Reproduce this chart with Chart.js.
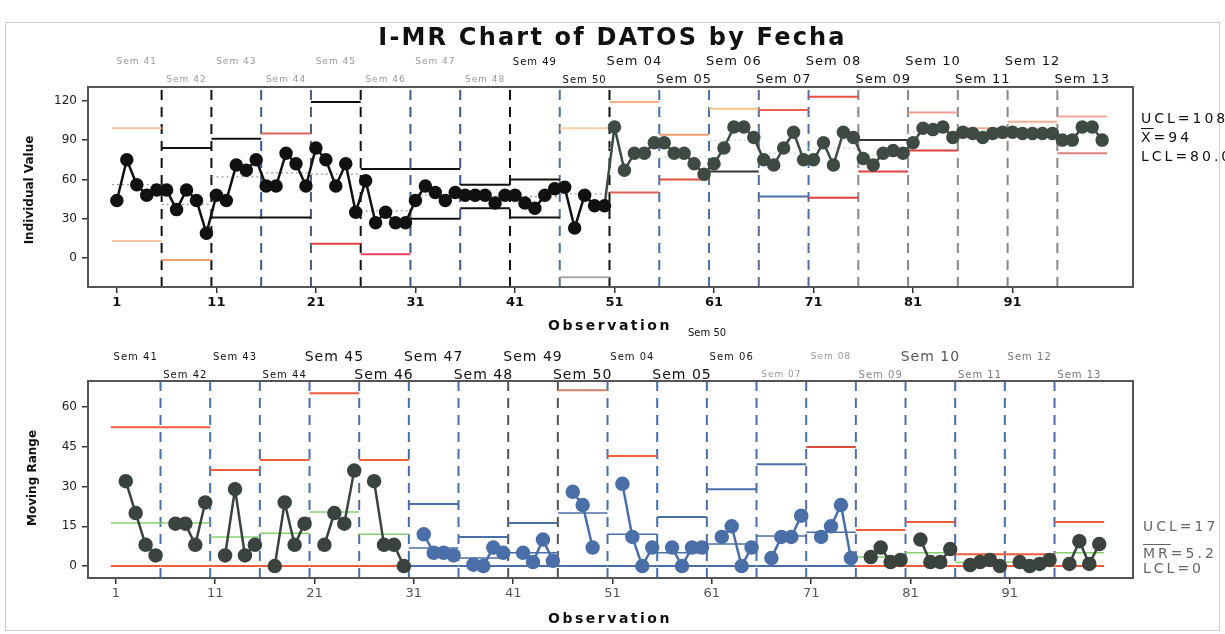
<!DOCTYPE html>
<html>
<head>
<meta charset="utf-8">
<script src="https://cdn.jsdelivr.net/npm/chart.js@4.4.0/dist/chart.umd.min.js"></script>
<style>
  body { margin: 0; width: 1225px; height: 634px; overflow: hidden; position: relative; background: #fff; font-family: "DejaVu Sans", sans-serif; }
  .marco { position: absolute; left: 5px; top: 22px; width: 1213px; height: 607px; border: 1px solid #cfcfcf; }
  canvas { position: absolute; left: 0; }
  #graficoI { top: 0; }
  #graficoMR { top: 335px; }
  .txt { position: absolute; white-space: nowrap; color: #111; }
  .titulo { left: 0; width: 1225px; top: 23px; text-align: center; font-weight: bold; font-size: 24px; letter-spacing: 2.2px; }
  .ejeY { font-weight: bold; font-size: 12px; transform: translate(-50%, -50%) rotate(-90deg); }
  .ejeX { font-weight: bold; font-size: 14px; letter-spacing: 2.5px; transform: translate(-50%, -50%); }
  .lim { font-size: 14px; letter-spacing: 3px; transform: translateY(-50%); }
  .ol { text-decoration: overline; }
</style>
</head>
<body>
<div class="marco"></div>
<canvas id="graficoI" width="1225" height="335"></canvas>
<canvas id="graficoMR" width="1225" height="299"></canvas>

<div class="txt titulo">I-MR Chart of DATOS by Fecha</div>
<div class="txt ejeY" style="left:29px; top:190px;">Individual Value</div>
<div class="txt ejeY" style="left:32px; top:478px;">Moving Range</div>
<div class="txt ejeX" style="left:610px; top:325px;">Observation</div>
<div class="txt ejeX" style="left:610px; top:618px;">Observation</div>
<div class="txt" style="left:688px; top:327px; font-size:10px;">Sem 50</div>

<div class="txt lim" style="left:1141px; top:118px;">UCL=108</div>
<div class="txt lim" style="left:1141px; top:137px;"><span class="ol">X</span>=94</div>
<div class="txt lim" style="left:1141px; top:156px;">LCL=80.0</div>
<div class="txt lim" style="left:1143px; top:526px; color:#666;">UCL=17</div>
<div class="txt lim" style="left:1143px; top:553px; color:#666;"><span class="ol">MR</span>=5.2</div>
<div class="txt lim" style="left:1143px; top:568px; color:#666;">LCL=0</div>

<script>
// Semanas (5 observaciones cada una)
const semanas = ["Sem 41", "Sem 42", "Sem 43", "Sem 44", "Sem 45", "Sem 46", "Sem 47", "Sem 48", "Sem 49", "Sem 50",
  "Sem 04", "Sem 05", "Sem 06", "Sem 07", "Sem 08", "Sem 09", "Sem 10", "Sem 11", "Sem 12", "Sem 13"];
const primeraObs = [1, 6, 11, 16, 21, 26, 31, 36, 41, 46, 51, 56, 61, 66, 71, 76, 81, 86, 91, 96];
const ticksObs = [1, 11, 21, 31, 41, 51, 61, 71, 81, 91];

// Valores individuales
const individual = [44, 75, 56, 48, 52, 52, 37, 52, 44, 19,
  48, 44, 71, 67, 75, 55, 55, 80, 72, 55,
  84, 75, 55, 72, 35, 59, 27, 35, 27, 27,
  44, 55, 50, 44, 50, 48, 48, 48, 42, 48,
  48, 42, 38, 48, 53, 54, 23, 48, 40, 40,
  100, 67, 80, 80, 88, 88, 80, 80, 72, 64,
  72, 84, 100, 100, 92, 75, 71, 84, 96, 75,
  75, 88, 71, 96, 92, 76, 71, 80, 82, 80,
  88, 99, 98, 100, 92, 96, 95, 92, 95, 96,
  96, 95, 95, 95, 95, 90, 90, 100, 100, 90];

// Rango movil (primer punto de cada semana vacio)
const rangoMovil = [null, 32, 20, 8, 4, null, 16, 16, 8, 24,
  null, 4, 29, 4, 8, null, 0, 24, 8, 16,
  null, 8, 20, 16, 36, null, 32, 8, 8, 0,
  null, 12, 5, 5, 4, null, 0.5, 0, 7, 5,
  null, 5, 1.5, 10, 2, null, 28, 23, 7, null,
  null, 31, 11, 0, 7, null, 7, 0, 7, 7,
  null, 11, 15, 0, 7, null, 3, 11, 11, 19,
  null, 11, 15, 23, 3, null, 3.4, 7, 1.5, 2.3,
  null, 10, 1.5, 1.5, 6.4, null, 0.4, 1.5, 2.3, 0,
  null, 1.5, 0, 0.8, 2.3, null, 0.8, 9.4, 0.8, 8.3];

// Limites por semana - grafico I
const iUCL = [99, 84, 91, 95, 119, 68, 68, 56, 60, 99, 119, 94, 114, 113, 123, 90, 111, 99, 104, 108];
const iCL = [56, 41, 62, 65, 64, 36, 48, 47, 47, 49, 84, 77, 90, 80, 84, 78, 96, 95, 96, 94];
const iLCL = [13, -1.5, 31, 31, 11, 3, 30, 38, 31, -14.5, 50, 60, 66, 47, 46, 66, 82, 92, 93, 80];

// Limites por semana - grafico MR
const mrUCL = [52.4, 52.4, 36.2, 40, 65.2, 40, 23.4, 11, 16.2, 66.3, 41.5, 18.5, 29, 38.4, 44.9, 13.6, 16.6, 4.5, 4.5, 16.6];
const mrCL = [16.2, 16.2, 11, 12.4, 20.4, 12, 6.8, 3, 5, 20, 12, 5, 8.3, 11.3, 12.8, 3.4, 5, 1.3, 1.5, 5];
const mrLCL = [0, 0, 0, 0, 0, 0, 0, 0, 0, 0, 0, 0, 0, 0, 0, 0, 0, 0, 0, 0];

const ticksI = [0, 30, 60, 90, 120];
const ticksMR = [0, 15, 30, 45, 60];

// Colores
const negro = "#111";
const grisVerde = "#3e4a42";
const azul = "#4a6fa8";
const rojo = "#ee5a3c";
const naranjaClaro = "#f6c2a4";
const verde = "#86d06c";

const colUCL_I = [naranjaClaro, negro, negro, "#e06060", negro, negro, negro, negro, negro, "#f6d2a4",
  "#f5b084", "#f0a070", "#f5c488", "#f06050", "#e85040", "#333", "#f0a090", "#f5b090", "#f5b090", "#f0a8a0"];
const colCL_I = ["#999", "#999", "#999", "#999", "#999", "#999", "#999", "#999", "#999", "#aaa",
  "#c8e4bc", "#c8e4bc", "#c8e4bc", "#c8e4bc", "#c8e4bc", "#c8e4bc", "#c8e4bc", "#e8c0a0", "#e8c0a0", "#c8e4bc"];
const colLCL_I = [naranjaClaro, "#f0a070", negro, negro, "#e84040", "#e84060", negro, negro, negro, "#aaa",
  "#e06050", "#e05040", "#333", azul, "#e04040", "#e04040", "#e04040", "#f0a090", "#f0a090", "#e08080"];
const colDiv_I = [negro, negro, "#3d5a8a", "#3d5a8a", negro, "#3d5a8a", "#3d5a8a", negro, "#56708f", negro,
  azul, azul, azul, azul, "#888", "#888", "#888", "#888", "#888"];

const colUCL_MR = [rojo, rojo, rojo, rojo, rojo, rojo, azul, azul, azul, "#c9846f",
  "#e8603c", azul, azul, azul, "#e04a3a", rojo, rojo, rojo, rojo, rojo];
const colCL_MR = [verde, verde, verde, verde, verde, verde, azul, azul, azul, azul,
  azul, azul, azul, azul, azul, verde, verde, verde, verde, verde];
const colLCL_MR = [rojo, rojo, rojo, rojo, rojo, rojo, azul, azul, azul, azul,
  azul, azul, azul, azul, azul, rojo, rojo, rojo, rojo, rojo];
const colDiv_MR = [azul, azul, azul, azul, azul, azul, azul, "#555", "#555", azul,
  azul, azul, azul, azul, azul, azul, azul, azul, azul];

function colorPuntoI(i) { return i < 50 ? negro : grisVerde; }
function colorPuntoMR(i) { return i >= 30 && i < 75 ? azul : "#3a433d"; }

// Segmentos horizontales por semana
function segmentos(valores) {
  const pts = [];
  primeraObs.forEach((f, i) => {
    const fin = (i + 1 < primeraObs.length ? primeraObs[i + 1] : f + 5) - 0.5;
    pts.push({ x: f - 0.5, y: valores[i] }, { x: fin, y: valores[i] }, { x: fin, y: null });
  });
  return pts;
}

// Lineas verticales entre semanas
function divisiones(ymin, ymax) {
  const pts = [];
  primeraObs.slice(1).forEach((f) => {
    pts.push({ x: f - 0.5, y: ymin }, { x: f - 0.5, y: ymax }, { x: f - 0.5, y: null });
  });
  return pts;
}

function serie(valores) {
  return valores.map((v, i) => ({ x: i + 1, y: v }));
}

function lineaLimite(valores, colores, ancho, dash) {
  return {
    data: segmentos(valores),
    borderWidth: ancho,
    borderDash: dash || [],
    pointRadius: 0,
    spanGaps: false,
    order: 2,
    segment: { borderColor: (ctx) => colores[Math.floor(ctx.p0DataIndex / 3)] },
  };
}

const decoraciones = {
  id: "decoraciones",
  afterDatasetsDraw(chart, args, opts) {
    const a = chart.chartArea;
    const ctx = chart.ctx;
    ctx.save();
    ctx.strokeStyle = "#555";
    ctx.lineWidth = 2;
    ctx.strokeRect(a.left, a.top, a.right - a.left, a.bottom - a.top);
    ctx.restore();
  },
  afterDraw(chart, args, opts) {
    const ctx = chart.ctx;
    const x = chart.scales.x;
    ctx.save();
    ctx.textAlign = "center";
    ctx.textBaseline = "middle";
    if ("letterSpacing" in ctx) ctx.letterSpacing = "1px";
    semanas.forEach((s, i) => {
      const centro = x.getPixelForValue(primeraObs[i] + 2);
      const fila = i % 2 === 0 ? opts.filaA : opts.filaB;
      ctx.font = opts.tamanos[i] + "px 'DejaVu Sans'";
      ctx.fillStyle = opts.colores[i];
      ctx.fillText(s, centro, fila);
    });
    ctx.restore();
  },
};

function ejes(xmin, xmax, ymin, ymax, ticksY, altoX, colorTick, negrita) {
  return {
    x: {
      type: "linear",
      min: xmin,
      max: xmax,
      afterBuildTicks: (s) => { s.ticks = ticksObs.map((v) => ({ value: v })); },
      afterFit: (s) => { s.height = altoX; },
      ticks: { color: colorTick, padding: 2, font: { family: "DejaVu Sans", size: 13, weight: negrita ? "bold" : "normal" } },
      grid: { drawOnChartArea: false, tickLength: 6, color: "#333", lineWidth: 1.5 },
      border: { display: false },
    },
    y: {
      min: ymin,
      max: ymax,
      afterBuildTicks: (s) => { s.ticks = ticksY.map((v) => ({ value: v })); },
      afterFit: (s) => { s.width = 88; },
      ticks: { color: "#222", padding: 5, font: { family: "DejaVu Sans", size: 12 } },
      grid: { drawOnChartArea: false, tickLength: 6, color: "#333", lineWidth: 1.5 },
      border: { display: false },
    },
  };
}

// Grafico I
new Chart(document.getElementById("graficoI"), {
  type: "line",
  data: {
    datasets: [
      {
        data: serie(individual),
        borderWidth: 2.5,
        pointRadius: 5.5,
        pointBackgroundColor: (ctx) => colorPuntoI(ctx.dataIndex),
        pointBorderColor: (ctx) => colorPuntoI(ctx.dataIndex),
        segment: { borderColor: (ctx) => colorPuntoI(ctx.p1DataIndex) },
        order: 0,
      },
      lineaLimite(iUCL, colUCL_I, 2),
      lineaLimite(iCL, colCL_I, 1.3, [2, 3]),
      lineaLimite(iLCL, colLCL_I, 2),
      {
        data: divisiones(-22, 130.5),
        borderWidth: 2,
        borderDash: [10, 7],
        pointRadius: 0,
        spanGaps: false,
        order: 3,
        segment: { borderColor: (ctx) => colDiv_I[Math.floor(ctx.p0DataIndex / 3)] },
      },
    ],
  },
  options: {
    responsive: false,
    animation: false,
    layout: { padding: { left: 0, right: 92, top: 87, bottom: 0 } },
    scales: ejes(-1.9, 103.1, -22, 130.5, ticksI, 48, "#111", true),
    plugins: {
      legend: { display: false },
      tooltip: { enabled: false },
      decoraciones: {
        filaA: 62,
        filaB: 80,
        tamanos: [9, 9, 9, 9, 9, 9, 9, 9, 10, 10, 13, 13, 13, 13, 13, 13, 13, 13, 13, 13],
        colores: ["#999", "#999", "#999", "#999", "#999", "#999", "#999", "#999", "#111", "#111",
          "#111", "#111", "#111", "#111", "#111", "#111", "#111", "#111", "#111", "#111"],
      },
    },
  },
  plugins: [decoraciones],
});

// Grafico MR
new Chart(document.getElementById("graficoMR"), {
  type: "line",
  data: {
    datasets: [
      {
        data: serie(rangoMovil),
        borderWidth: 2.5,
        pointRadius: 6,
        spanGaps: false,
        pointBackgroundColor: (ctx) => colorPuntoMR(ctx.dataIndex),
        pointBorderColor: (ctx) => colorPuntoMR(ctx.dataIndex),
        segment: { borderColor: (ctx) => colorPuntoMR(ctx.p1DataIndex) },
        order: 0,
      },
      lineaLimite(mrUCL, colUCL_MR, 2),
      lineaLimite(mrCL, colCL_MR, 1.5),
      lineaLimite(mrLCL, colLCL_MR, 2),
      {
        data: divisiones(-4.5, 69.8),
        borderWidth: 2,
        borderDash: [10, 7],
        pointRadius: 0,
        spanGaps: false,
        order: 3,
        segment: { borderColor: (ctx) => colDiv_MR[Math.floor(ctx.p0DataIndex / 3)] },
      },
    ],
  },
  options: {
    responsive: false,
    animation: false,
    layout: { padding: { left: 0, right: 92, top: 46, bottom: 0 } },
    scales: ejes(-1.8, 103.4, -4.5, 69.8, ticksMR, 56, "#555", false),
    plugins: {
      legend: { display: false },
      tooltip: { enabled: false },
      decoraciones: {
        filaA: 22,
        filaB: 40,
        tamanos: [10, 10, 10, 10, 14, 14, 14, 14, 14, 14, 10, 14, 10, 9, 9, 10, 14, 10, 10, 10],
        colores: ["#111", "#111", "#111", "#111", "#111", "#111", "#111", "#111", "#111", "#111",
          "#111", "#111", "#111", "#999", "#999", "#888", "#555", "#777", "#777", "#777"],
      },
    },
  },
  plugins: [decoraciones],
});
</script>
</body>
</html>
